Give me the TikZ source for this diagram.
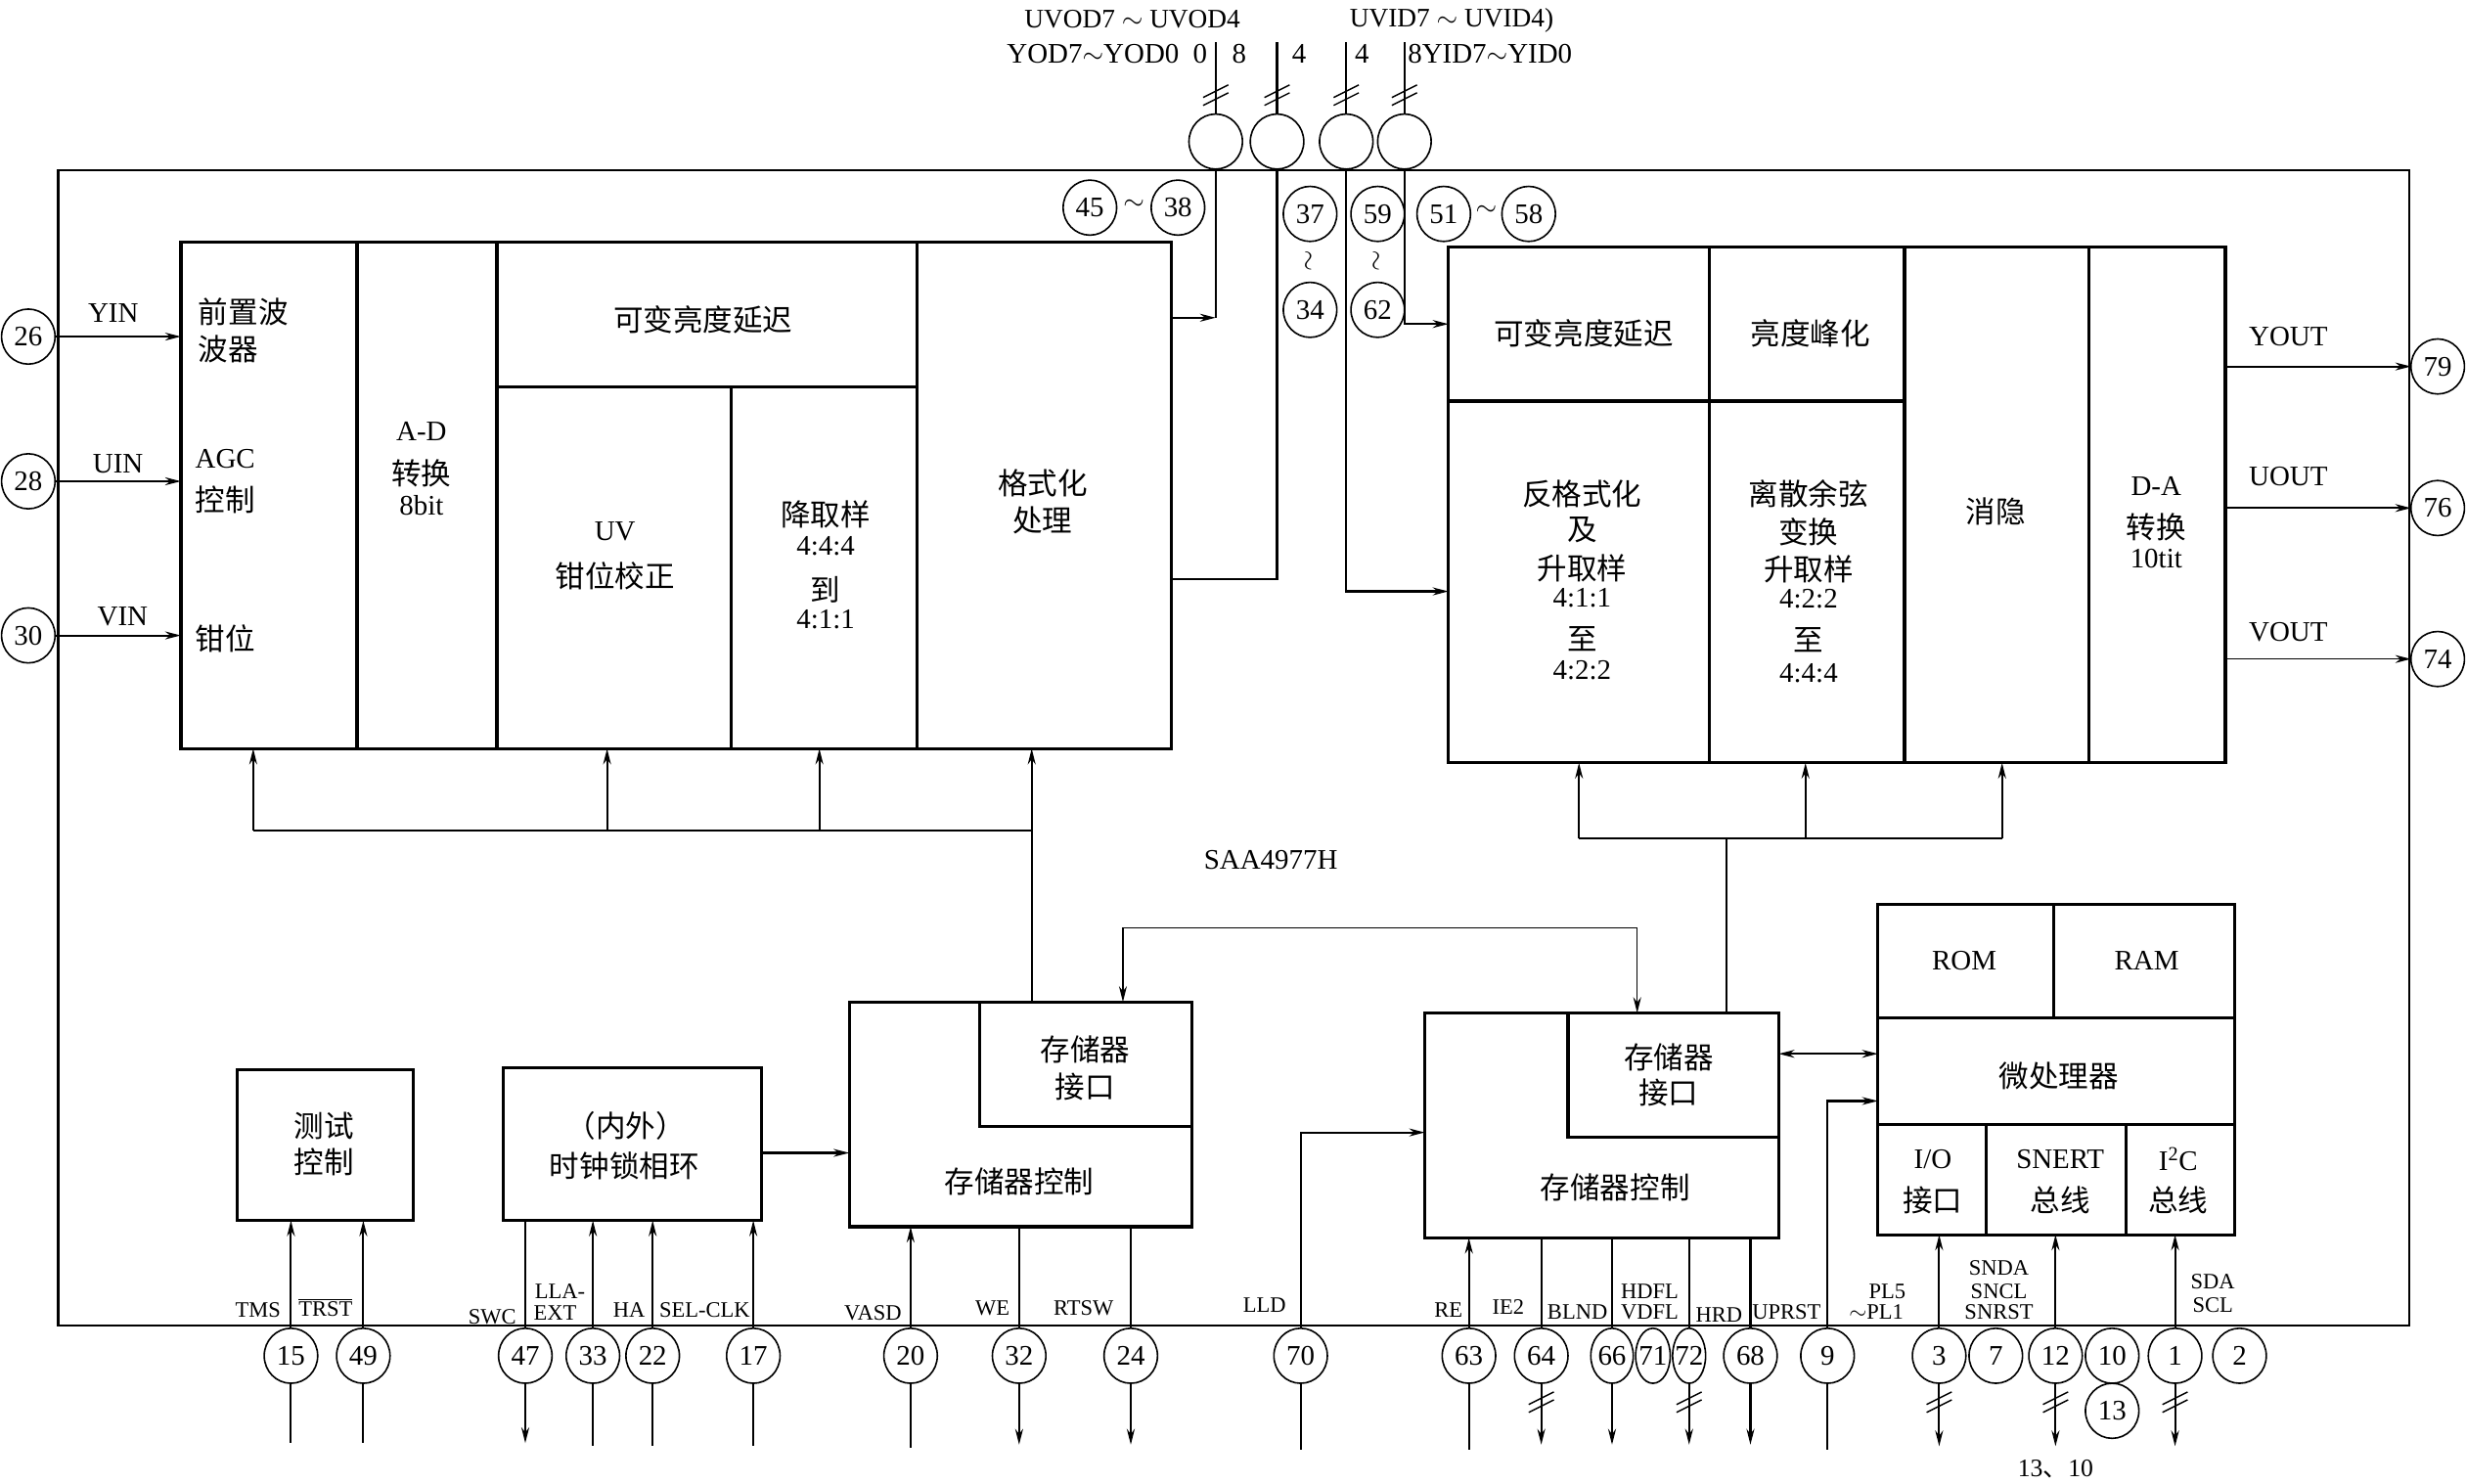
\documentclass[tikz,border=0pt]{standalone}
\usepackage{fontspec}
\setmainfont{Liberation Serif}
\newfontfamily\cjk{Noto Sans CJK SC}
\usetikzlibrary{arrows.meta,shapes.geometric}

\newcommand{\cellbox}[6][]{\node[blk,#1,minimum width={(#5-#3)*1pt},minimum height={(#6-#4)*1pt}] (#2) at ({(#3+#5)/2},{(#4+#6)/2}) {};}
\newcommand{\busmark}[2]{\draw[line width=0.9pt] ({#1-8},{#2+2}) -- ({#1+8},{#2-6}) ({#1-8},{#2+7}) -- ({#1+8},{#2-1});}
\newcommand{\pn}[1]{\makebox[0pt]{#1}}

\tikzset{
  blk/.style={draw, line width=2pt, inner sep=0pt, outer sep=0pt},
  pin/.style={draw, line width=1pt, fill=white, ellipse, minimum width=34pt, minimum height=35pt, inner sep=0pt, outer sep=0pt, font=\fontsize{18}{20}\selectfont},
  cn/.style={line width=1.3pt},
  tn/.style={line width=0.9pt},
  cj/.style={inner sep=0pt, font=\cjk\fontsize{19}{22}\selectfont},
  lt/.style={inner sep=0pt, font=\fontsize{18}{21}\selectfont},
  sm/.style={inner sep=0pt, font=\fontsize{14}{15}\selectfont},
  >={Stealth[length=10pt,width=5pt]}
}

\begin{document}
\begin{tikzpicture}[x=1pt,y=-1pt]
\useasboundingbox (0,0) rectangle (1568,943);

% chip outline
\node[draw, line width=1.3pt, inner sep=0pt, outer sep=0pt, minimum width=1495pt, minimum height=735pt] (chip) at (784.5,475.5) {};
\node[lt] (name) at (808,547) {SAA4977H};

% ---------- left block ----------
\cellbox{L1}{115}{154}{227}{476}
\cellbox{L2}{227}{154}{316}{476}
\cellbox{L3}{316}{154}{583}{246}
\cellbox{L4}{316}{246}{465}{476}
\cellbox{L5}{465}{246}{583}{476}
\cellbox{L6}{583}{154}{745}{476}

\node[cj,anchor=west] (tA1) at (126,198) {前置波};
\node[cj,anchor=west] (tA2) at (126,222) {波器};
\node[lt,anchor=west] (tA3) at (124,292) {AGC};
\node[cj,anchor=west] (tA4) at (124,318) {控制};
\node[cj,anchor=west] (tA5) at (124,406) {钳位};
\node[lt] (tB1) at (268,274) {A-D};
\node[cj] (tB2) at (268,301) {转换};
\node[lt] (tB3) at (268,321) {8bit};
\node[cj] (tC) at (447,203) {可变亮度延迟};
\node[lt] (tD1) at (391,338) {UV};
\node[cj] (tD2) at (391,366) {钳位校正};
\node[cj] (tE1) at (525,327) {降取样};
\node[lt] (tE2) at (525,347) {4:4:4};
\node[cj] (tE3) at (525,375) {到};
\node[lt] (tE4) at (525,394) {4:1:1};
\node[cj] (tF1) at (663,307) {格式化};
\node[cj] (tF2) at (663,331) {处理};

% ---------- right block ----------
\cellbox{R1}{921}{157}{1087}{255}
\cellbox{R2}{1087}{157}{1211}{255}
\cellbox{R3}{921}{255}{1087}{485}
\cellbox{R4}{1087}{255}{1211}{485}
\cellbox{R5}{1211}{157}{1328}{485}
\cellbox{R6}{1328}{157}{1415}{485}

\node[cj] (tG) at (1007,212) {可变亮度延迟};
\node[cj] (tH) at (1151,212) {亮度峰化};
\node[cj] (tI1) at (1006,314) {反格式化};
\node[cj] (tI2) at (1006,337) {及};
\node[cj] (tI3) at (1006,361) {升取样};
\node[lt] (tI4) at (1006,380) {4:1:1};
\node[cj] (tI5) at (1006,406) {至};
\node[lt] (tI6) at (1006,426) {4:2:2};
\node[cj] (tJ1) at (1150,314) {离散余弦};
\node[cj] (tJ2) at (1150,338) {变换};
\node[cj] (tJ3) at (1150,362) {升取样};
\node[lt] (tJ4) at (1150,381) {4:2:2};
\node[cj] (tJ5) at (1150,407) {至};
\node[lt] (tJ6) at (1150,428) {4:4:4};
\node[cj] (tK) at (1269,325) {消隐};
\node[lt] (tL1) at (1371,309) {D-A};
\node[cj] (tL2) at (1371,335) {转换};
\node[lt] (tL3) at (1371,355) {10tit};

% ---------- lower boxes ----------
\cellbox{T}{151}{680}{263}{776}
\node[cj] (tT1) at (206,716) {测试};
\node[cj] (tT2) at (206,739) {控制};

\cellbox{P}{320}{679}{484}{776}
\node[cj] (tP1) at (398,716) {（内外）};
\node[cj] (tP2) at (397,741) {时钟锁相环};

\cellbox{M1}{540}{637}{758}{780}
\cellbox{M1i}{623}{637}{758}{716}
\node[cj] (tM1a) at (690,667) {存储器};
\node[cj] (tM1b) at (690,691) {接口};
\node[cj] (tM1c) at (648,751) {存储器控制};

\cellbox{M2}{906}{644}{1131}{787}
\cellbox{M2i}{997}{644}{1131}{723}
\node[cj] (tM2a) at (1061,672) {存储器};
\node[cj] (tM2b) at (1061,695) {接口};
\node[cj] (tM2c) at (1027,755) {存储器控制};

\cellbox{ROM}{1194}{575}{1306}{647}
\cellbox{RAM}{1306}{575}{1421}{647}
\cellbox{MP}{1194}{647}{1421}{715}
\cellbox{IO}{1194}{715}{1263}{785}
\cellbox{SN}{1263}{715}{1352}{785}
\cellbox{IIC}{1352}{715}{1421}{785}
\node[lt] (tROM) at (1249,611) {ROM};
\node[lt] (tRAM) at (1365,611) {RAM};
\node[cj] (tMP) at (1309,684) {微处理器};
\node[lt] (tIO1) at (1229,737) {I/O};
\node[cj] (tIO2) at (1229,763) {接口};
\node[lt] (tSN1) at (1310,737) {SNERT};
\node[cj] (tSN2) at (1310,763) {总线};
\node[lt] (tIC1) at (1385,737) {I\textsuperscript{2}C};
\node[cj] (tIC2) at (1385,763) {总线};

% ---------- left inputs ----------
\node[pin] (p26) at (18,214) {\pn{26}};
\node[pin] (p28) at (18,306) {\pn{28}};
\node[pin] (p30) at (18,404) {\pn{30}};
\node[lt] (tYIN) at (72,199) {YIN};
\node[lt] (tUIN) at (75,295) {UIN};
\node[lt] (tVIN) at (78,392) {VIN};
\draw[cn,->] (p26.east) -- (L1.west |- p26);
\draw[cn,->] (p28.east) -- (L1.west |- p28);
\draw[cn,->] (p30.east) -- (L1.west |- p30);

% ---------- right outputs ----------
\node[pin] (p79) at (1550,233) {\pn{79}};
\node[pin] (p76) at (1550,323) {\pn{76}};
\node[pin] (p74) at (1550,419) {\pn{74}};
\node[lt] (tYOUT) at (1455,214) {YOUT};
\node[lt] (tUOUT) at (1455,303) {UOUT};
\node[lt] (tVOUT) at (1455,402) {VOUT};
\draw[cn,->] (R6.east |- p79) -- (p79.west);
\draw[cn,->] (R6.east |- p76) -- (p76.west);
\draw[tn,->] (R6.east |- p74) -- (p74.west);

% ---------- top buses ----------
\node[pin] (c1) at (773,90) {};
\node[pin] (c2) at (812,90) {};
\node[pin] (c3) at (856,90) {};
\node[pin] (c4) at (893,90) {};
\draw[cn] (c1.north) -- ++(0,-46);
\draw[cn] (c2.north) -- ++(0,-46);
\draw[cn] (c3.north) -- ++(0,-46);
\draw[cn] (c4.north) -- ++(0,-46);
\busmark{773}{60}
\busmark{812}{60}
\busmark{856}{60}
\busmark{893}{60}

\node[lt,font=\fontsize{17}{20}\selectfont] (tUVOD) at (720,12) {UVOD7 $\sim$ UVOD4};
\node[lt,font=\fontsize{17}{20}\selectfont] (tUVID) at (923,13) {UVID7 $\sim$ UVID4)};
\node[lt] (tYOD) at (695,34) {YOD7$\sim$YOD0};
\node[lt] (tn0) at (763,34) {0};
\node[lt] (tn8) at (788,34) {8};
\node[lt] (tn4a) at (826,34) {4};
\node[lt] (tn4b) at (866,34) {4};
\node[lt,anchor=west] (tYID) at (895,34) {8YID7$\sim$YID0};

\node[pin] (p45) at (693,132) {\pn{45}};
\node[pin] (p38) at (749,132) {\pn{38}};
\node[lt] (tt1) at (721,130) {$\sim$};
\node[pin] (p37) at (833,136) {\pn{37}};
\node[pin] (p34) at (833,197) {\pn{34}};
\node[lt,rotate=90] (tt2) at (833,166) {$\sim$};
\node[pin] (p59) at (876,136) {\pn{59}};
\node[pin] (p62) at (876,197) {\pn{62}};
\node[lt,rotate=90] (tt3) at (876,166) {$\sim$};
\node[pin] (p51) at (918,136) {\pn{51}};
\node[pin] (p58) at (972,136) {\pn{58}};
\node[lt] (tt4) at (945,134) {$\sim$};

\draw[cn] (c1.south) -- (c1 |- 0,202);
\draw[cn,->] (L6.east |- 0,202) -- (c1 |- 0,202);
\draw[cn] (c2.south) |- (L6.east |- 0,368);
\draw[cn,->] (c3.south) |- (R3.west |- 0,376);
\draw[cn,->] (c4.south) |- (R1.west |- 0,206);

% ---------- internal buses ----------
\coordinate (jl) at (656,528);
\draw[cn] (M1i.north -| jl) -- (jl);
\draw[cn,->] (jl) -- (L6.south -| jl);
\draw[cn] (jl) -- (161,528);
\draw[cn,->] (161,528) -- (L1.south -| 161,0);
\draw[cn,->] (386,528) -- (L4.south -| 386,0);
\draw[cn,->] (521,528) -- (L5.south -| 521,0);

\coordinate (jr) at (1098,533);
\draw[cn] (M2i.north -| jr) -- (jr);
\draw[cn] (1004,533) -- (1273,533);
\draw[cn,->] (1004,533) -- (R3.south -| 1004,0);
\draw[cn,->] (1148,533) -- (R4.south -| 1148,0);
\draw[cn,->] (1273,533) -- (R5.south -| 1273,0);

\draw[tn,<->] (M1i.north -| 714,0) -- (714,590) -- (1041,590) -- (M2i.north -| 1041,0);
\draw[cn,->] (P.east |- 0,733) -- (M1.west |- 0,733);
\draw[cn,<->] (M2i.east |- 0,670) -- (MP.west |- 0,670);

% ---------- bottom pins ----------
\node[pin] (p15) at (185,862) {\pn{15}};
\node[pin] (p49) at (231,862) {\pn{49}};
\node[pin] (p47) at (334,862) {\pn{47}};
\node[pin] (p33) at (377,862) {\pn{33}};
\node[pin] (p22) at (415,862) {\pn{22}};
\node[pin] (p17) at (479,862) {\pn{17}};
\node[pin] (p20) at (579,862) {\pn{20}};
\node[pin] (p32) at (648,862) {\pn{32}};
\node[pin] (p24) at (719,862) {\pn{24}};
\node[pin] (p70) at (827,862) {\pn{70}};
\node[pin] (p63) at (934,862) {\pn{63}};
\node[pin] (p64) at (980,862) {\pn{64}};
\node[pin,minimum width=27pt] (p66) at (1025,862) {\pn{66}};
\node[pin,minimum width=22pt] (p71) at (1051,862) {\pn{71}};
\node[pin,minimum width=21pt] (p72) at (1074,862) {\pn{72}};
\node[pin] (p68) at (1113,862) {\pn{68}};
\node[pin] (p9) at (1162,862) {\pn{9}};
\node[pin] (p3) at (1233,862) {\pn{3}};
\node[pin] (p7) at (1269,862) {\pn{7}};
\node[pin] (p12) at (1307,862) {\pn{12}};
\node[pin] (p10) at (1343,862) {\pn{10}};
\node[pin] (p13) at (1343,897) {\pn{13}};
\node[pin] (p1) at (1383,862) {\pn{1}};
\node[pin] (p2) at (1424,862) {\pn{2}};

% inputs up into boxes
\draw[cn] (p15.south) -- ++(0,38);
\draw[cn,->] (p15.north) -- (T.south -| p15);
\draw[cn] (p49.south) -- ++(0,38);
\draw[cn,->] (p49.north) -- (T.south -| p49);
\draw[cn] (P.south -| p47) -- (p47.north);
\draw[cn,->] (p47.south) -- ++(0,38);
\draw[cn] (p33.south) -- ++(0,40);
\draw[cn,->] (p33.north) -- (P.south -| p33);
\draw[cn] (p22.south) -- ++(0,40);
\draw[cn,->] (p22.north) -- (P.south -| p22);
\draw[tn] (p17.south) -- ++(0,40);
\draw[tn,->] (p17.north) -- (P.south -| p17);
\draw[cn] (p20.south) -- ++(0,41);
\draw[cn,->] (p20.north) -- (M1.south -| p20);
\draw[cn] (M1.south -| p32) -- (p32.north);
\draw[cn,->] (p32.south) -- ++(0,39);
\draw[cn] (M1.south -| p24) -- (p24.north);
\draw[cn,->] (p24.south) -- ++(0,39);

\draw[cn] (p70.south) -- ++(0,42);
\draw[cn,->] (p70.north) |- (M2.west |- 0,720);
\draw[cn] (p63.south) -- ++(0,42);
\draw[cn,->] (p63.north) -- (M2.south -| p63);
\draw[cn] (M2.south -| p64) -- (p64.north);
\draw[cn,->] (p64.south) -- ++(0,39);
\busmark{980}{891}
\draw[cn] (M2.south -| p66) -- (p66.north);
\draw[cn,->] (p66.south) -- ++(0,39);
\draw[cn] (M2.south -| p72) -- (p72.north);
\draw[cn,->] (p72.south) -- ++(0,39);
\busmark{1074}{891}
\draw[cn] (M2.south -| p68) -- (p68.north);
\draw[cn,->] (p68.south) -- ++(0,39);
\draw[cn] (p9.south) -- ++(0,42);
\draw[cn,->] (p9.north) |- (MP.west |- 0,700);

\draw[cn,->] (p3.north) -- (IO.south -| p3);
\draw[cn,->] (p3.south) -- ++(0,40);
\busmark{1233}{891}
\draw[cn,->] (p12.north) -- (SN.south -| p12);
\draw[cn,->] (p12.south) -- ++(0,40);
\busmark{1307}{891}
\draw[cn,->] (p1.north) -- (IIC.south -| p1);
\draw[cn,->] (p1.south) -- ++(0,40);
\busmark{1383}{891}

% bottom labels
\node[sm] (lTMS) at (164,833) {TMS};
\node[sm] (lTRST) at (207,831) {$\overline{\hbox{TRST}}$};
\node[sm] (lSWC) at (313,837) {SWC};
\node[sm] (lLLA) at (356,821) {LLA-};
\node[sm] (lEXT) at (353,835) {EXT};
\node[sm] (lHA) at (400,833) {HA};
\node[sm] (lSEL) at (448,833) {SEL-CLK};
\node[sm] (lVASD) at (555,835) {VASD};
\node[sm] (lWE) at (631,832) {WE};
\node[sm] (lRTSW) at (689,832) {RTSW};
\node[sm] (lLLD) at (804,830) {LLD};
\node[sm] (lRE) at (921,833) {RE};
\node[sm] (lIE2) at (959,831) {IE2};
\node[sm] (lBLND) at (1003,834) {BLND};
\node[sm] (lHDFL) at (1049,821) {HDFL};
\node[sm] (lVDFL) at (1049,834) {VDFL};
\node[sm] (lHRD) at (1093,836) {HRD};
\node[sm] (lUPRST) at (1136,834) {UPRST};
\node[sm] (lPL5) at (1200,821) {PL5};
\node[sm] (lPL1) at (1193,834) {$\sim$PL1};
\node[sm] (lSNDA) at (1271,806) {SNDA};
\node[sm] (lSNCL) at (1271,821) {SNCL};
\node[sm] (lSNRST) at (1271,834) {SNRST};
\node[sm] (lSDA) at (1407,815) {SDA};
\node[sm] (lSCL) at (1407,830) {SCL};
\node[lt,font=\fontsize{16}{18}\selectfont] (l1310) at (1307,934) {13{\cjk 、}10};
\end{tikzpicture}
\end{document}
